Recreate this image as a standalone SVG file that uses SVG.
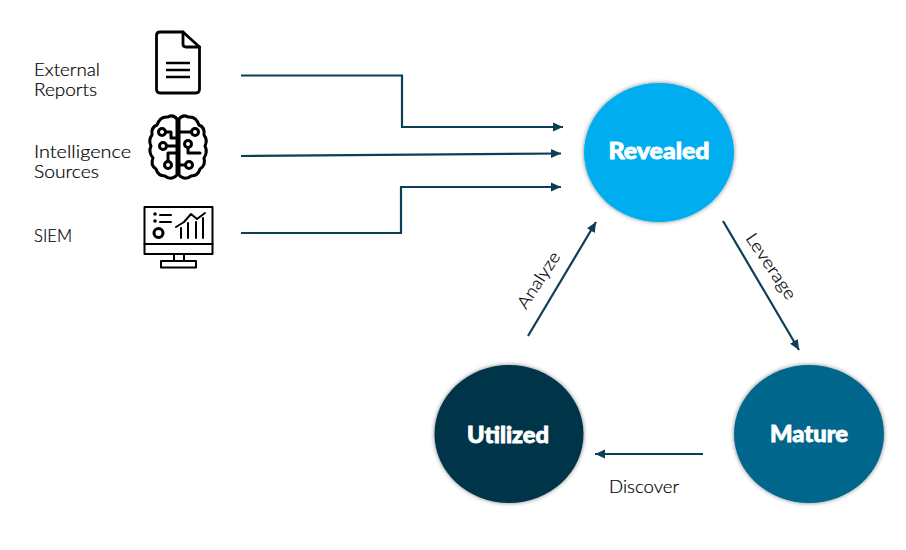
<svg xmlns="http://www.w3.org/2000/svg" width="906" height="550" viewBox="0 0 906 550">
<style>
.lbl{font-family:"Lato","Open Sans","Liberation Sans",sans-serif;font-size:17px;font-weight:300;fill:#000;stroke:#000;stroke-width:.2}
.ttl{font-family:"Lato","Open Sans","Liberation Sans",sans-serif;font-size:22px;font-weight:900;fill:#fff;stroke:#fff;stroke-width:.8;text-anchor:middle}
.cn{fill:none;stroke:#0b3f55;stroke-width:2.200;marker-end:url(#ah)}
.ic{fill:none;stroke:#000;stroke-linejoin:round;stroke-linecap:round}
</style>
<defs>
<marker id="ah" markerUnits="userSpaceOnUse" markerWidth="11" markerHeight="10" refX="10" refY="5" orient="auto"><path d="M0 .5L10 5L0 9.500Z" fill="#0b3f55"/></marker>
<filter id="sh" x="-10%" y="-10%" width="120%" height="120%"><feDropShadow dx="0" dy="0" stdDeviation="2" flood-color="#000" flood-opacity=".5"/></filter>
</defs>
<rect width="906" height="550" fill="#fff"/>
<g id="connectors">
<path class="cn" d="M241 75.500H402V127H563"/>
<path class="cn" d="M241 156L561 153.500"/>
<path class="cn" d="M241 233H401V187H561"/>
<path class="cn" d="M528 336L596 222"/>
<path class="cn" d="M723 221L799 350"/>
<path class="cn" d="M703 454H595"/>
</g>
<g id="node-external-reports">
<text class="lbl" x="34" y="76" textLength="66" lengthAdjust="spacingAndGlyphs">External</text>
<text class="lbl" x="34" y="96" textLength="63" lengthAdjust="spacingAndGlyphs">Reports</text>
<g class="ic" stroke-width="2.800">
<path d="M183 32H160Q156.500 32 156.500 35.500V89Q156.500 93 160 93H196Q199.500 93 199.500 89V47Z"/>
<path d="M183 32V44Q183 47 186 47H199.500"/>
</g>
<path d="M166 63H190M166 70H190M166 77H190" fill="none" stroke="#000" stroke-width="2.500"/>
</g>
<g id="node-intelligence-sources">
<text class="lbl" x="34" y="158" textLength="97" lengthAdjust="spacingAndGlyphs">Intelligence</text>
<text class="lbl" x="34" y="178" textLength="65" lengthAdjust="spacingAndGlyphs">Sources</text>
<g class="ic" stroke-width="3">
<path d="M177 119V175Q171 181 165 176Q158 176 156 169Q150 165 153 158Q148 152 151 146Q148 140 152 135Q151 127 157 125Q160 116 168 117Q173 114 177 119Z"/>
<path d="M179 119V175Q185 181 191 176Q198 176 200 169Q206 165 204 158Q208 152 205 146Q208 140 204 135Q205 127 199 125Q196 116 188 117Q183 114 179 119Z"/>
<circle cx="162" cy="132" r="3.500"/><circle cx="163" cy="146" r="3.500"/><circle cx="168" cy="165" r="3.500"/>
<circle cx="195" cy="132" r="3.500"/><circle cx="188" cy="144" r="3.500"/><circle cx="189" cy="165" r="3.500"/>
<path d="M165.500 132H171V138H177M166.500 146H177M168 161.500V153H177"/>
<path d="M191.500 132H179M188 147.500V153H200M185.500 165H179"/>
</g>
</g>
<g id="node-siem">
<text class="lbl" x="34" y="242" textLength="38" lengthAdjust="spacingAndGlyphs">SIEM</text>
<g class="ic" stroke-width="2">
<rect x="144.500" y="207" width="68" height="47"/>
<path d="M144.500 244H212.500M174 254V261M184 254V261"/>
<rect x="161" y="261" width="35" height="6.500"/>
<path d="M160 215H171M160 222H171"/>
<path d="M176 227L184 222L191 214L197 219L205 213M181 238V228M188 238V223M196 238V222M203 238V218"/>
<circle cx="158.500" cy="233" r="4.500" stroke-width="3"/>
</g>
<circle cx="155" cy="214" r="1.800"/><circle cx="155" cy="221" r="1.800"/>
</g>
<g id="node-revealed">
<ellipse cx="659" cy="152.500" rx="75" ry="69.500" fill="#00aeef" filter="url(#sh)"/>
<text class="ttl" x="659" y="159" textLength="101" lengthAdjust="spacingAndGlyphs">Revealed</text>
</g>
<g id="node-utilized">
<ellipse cx="509" cy="434" rx="74.500" ry="69" fill="#013548" filter="url(#sh)"/>
<text class="ttl" x="508" y="442.500" textLength="82" lengthAdjust="spacingAndGlyphs">Utilized</text>
</g>
<g id="node-mature">
<ellipse cx="809" cy="434" rx="75" ry="69" fill="#00668c" filter="url(#sh)"/>
<text class="ttl" x="809" y="441.500" textLength="78" lengthAdjust="spacingAndGlyphs">Mature</text>
</g>
<g id="edge-labels">
<text class="lbl" transform="translate(526 310) rotate(-57)" textLength="64" lengthAdjust="spacingAndGlyphs">Analyze</text>
<text class="lbl" transform="translate(745 238) rotate(56)" textLength="76" lengthAdjust="spacingAndGlyphs">Leverage</text>
<text class="lbl" x="609" y="493" textLength="70" lengthAdjust="spacingAndGlyphs">Discover</text>
</g>
</svg>
